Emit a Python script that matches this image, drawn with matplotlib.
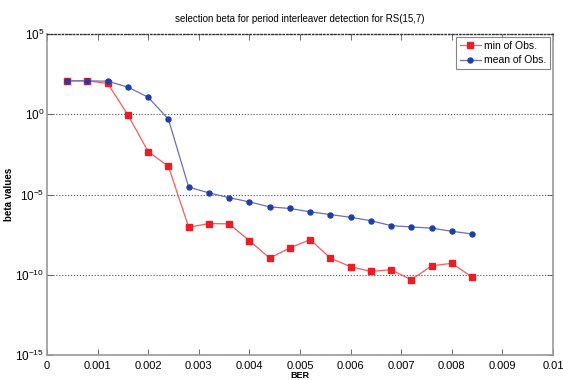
import numpy as np
import matplotlib
matplotlib.use("Agg")
import matplotlib.pyplot as plt
from matplotlib.ticker import NullLocator, FixedLocator, FixedFormatter

plt.rcParams['font.family'] = ['Liberation Sans', 'DejaVu Sans']
plt.rcParams['mathtext.fontset'] = 'custom'
plt.rcParams['mathtext.rm'] = 'Liberation Sans'
plt.rcParams['mathtext.it'] = 'Liberation Sans'

ber = [0.0004, 0.0008, 0.0012, 0.0016, 0.0020, 0.0024, 0.0028, 0.0032, 0.0036, 0.0040,
       0.0044, 0.0048, 0.0052, 0.0056, 0.0060, 0.0064, 0.0068, 0.0072, 0.0076, 0.0080, 0.0084]
log_min = [2.08, 2.08, 1.92, -0.05, -2.33, -3.25, -7.04, -6.81, -6.83, -7.88,
           -8.96, -8.33, -7.81, -8.96, -9.50, -9.79, -9.69, -10.31, -9.44, -9.29, -10.14]
log_mean = [2.08, 2.08, 2.06, 1.69, 1.06, -0.31, -4.54, -4.90, -5.20, -5.46,
            -5.77, -5.87, -6.08, -6.25, -6.42, -6.63, -6.94, -7.02, -7.10, -7.29, -7.46]
min_obs = [10 ** v for v in log_min]
mean_obs = [10 ** v for v in log_mean]

xticks = [0, 0.001, 0.002, 0.003, 0.004, 0.005, 0.006, 0.007, 0.008, 0.009, 0.01]
xticklabels = ['0', '0.001', '0.002', '0.003', '0.004', '0.005', '0.006', '0.007', '0.008', '0.009', '0.01']
yticks = [1e-15, 1e-10, 1e-5, 1e0, 1e5]
yticklabels = [r'$10^{-15}$', r'$10^{-10}$', r'$10^{-5}$', r'$10^{0}$', r'$10^{5}$']

fig = plt.figure(figsize=(5.63, 3.8), dpi=100)
ax = fig.add_axes([47/563, 1-355/380, (553-47)/563, (355-34)/380])

ax.plot(ber, min_obs, color='#ff5a5a', lw=0.9, marker='s', ms=4, mfc='#ee1c24', mec='#ee1c24',
        label='min of Obs.')
ax.plot(ber, mean_obs, color='#6a6fc0', lw=0.9, marker='o', ms=3.6, mfc='#1f3fa8', mec='#1f3fa8',
        label='mean of Obs.')

ax.set_yscale('log')
ax.set_ylim(1e-15, 1e5)
ax.set_xlim(0, 0.01)
ax.yaxis.set_major_locator(FixedLocator(yticks))
ax.yaxis.set_minor_locator(NullLocator())
ax.yaxis.set_major_formatter(FixedFormatter(yticklabels))
ax.xaxis.set_major_locator(FixedLocator(xticks))
ax.xaxis.set_major_formatter(FixedFormatter(xticklabels))

ax.tick_params(axis='x', direction='in', top=True, labelsize=8, length=4, width=0.6,
               color='#555555', pad=4)
ax.tick_params(axis='y', direction='in', right=True, labelsize=8.5, length=4, width=0.6,
               color='#555555', pad=2)
ax.grid(axis='y', which='major', ls=':', color='#555555', lw=0.8)

for s in ['left', 'bottom', 'right']:
    ax.spines[s].set_color('#999999')
    ax.spines[s].set_linewidth(1.2)
ax.spines['top'].set_color('#333333')
ax.spines['top'].set_linestyle(':')
ax.spines['top'].set_linewidth(1.0)

ax.set_title('selection beta for period interleaver detection for RS(15,7)', fontsize=7, pad=9)
ax.set_ylabel('beta values', fontsize=7, fontweight='bold', labelpad=1)
ax.set_xlabel('BER', fontsize=6.5, fontweight='bold', labelpad=0)

leg = ax.legend(loc='upper right', fontsize=7.5, frameon=True, fancybox=False,
                edgecolor='#666666', borderaxespad=0.3, handlelength=2.0,
                handletextpad=0.3, borderpad=0.35, labelspacing=0.45)
leg.get_frame().set_linewidth(0.8)

fig.savefig('out.png', dpi=100)
